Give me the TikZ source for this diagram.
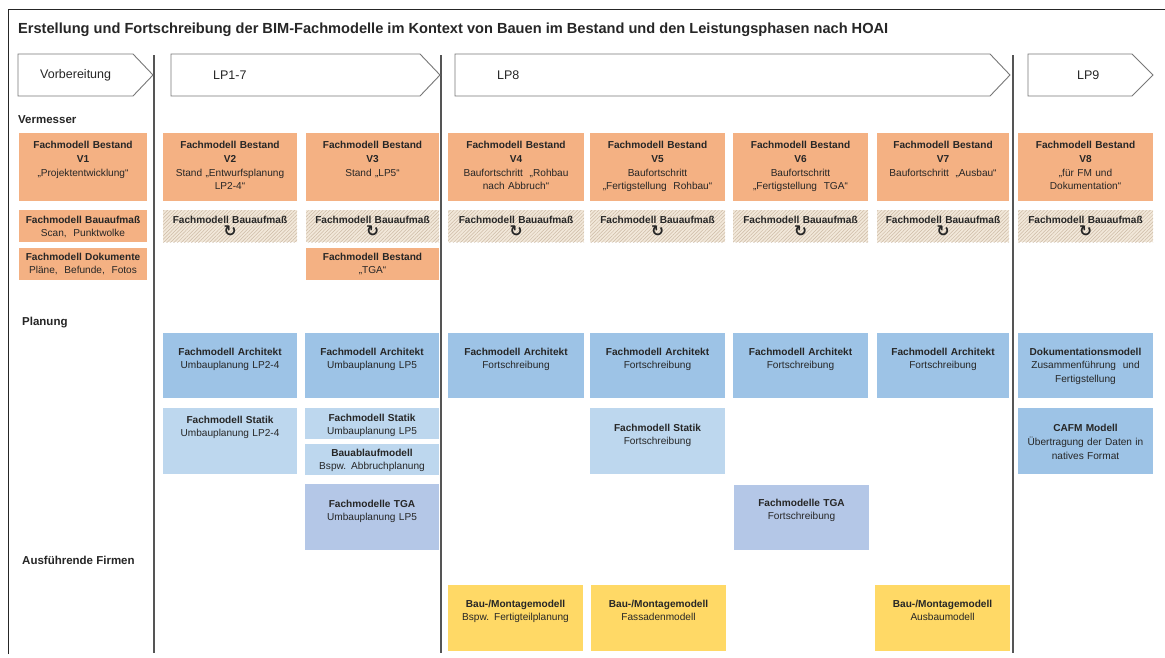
\documentclass[tikz,border=0pt]{standalone}
\usepackage{fontspec}
\setmainfont{Liberation Sans}
\newfontfamily\symfont{DejaVu Sans}
\usetikzlibrary{patterns.meta,calc}
\definecolor{orng}{RGB}{244,177,131}
\definecolor{arch}{RGB}{157,195,230}
\definecolor{stat}{RGB}{189,215,238}
\definecolor{tgac}{RGB}{180,199,231}
\definecolor{ylw}{RGB}{255,217,102}
\definecolor{hbg}{RGB}{242,232,218}
\definecolor{hln}{RGB}{205,186,165}
\definecolor{txtc}{RGB}{38,38,38}
\definecolor{sepc}{RGB}{85,85,85}
\definecolor{hdrc}{RGB}{120,120,120}
\newcommand{\bx}[8]{%
  \pgfmathsetmacro{\bw}{#4-#2}\pgfmathsetmacro{\bh}{#5-#3}\pgfmathsetmacro{\tw}{#4-#2-2}%
  \node[#6, minimum width=\bw pt, minimum height=\bh pt, anchor=north west] (#1) at (#2,#3) {};
  \node[btxt, anchor=north, text width=\tw pt] (#1-t) at ([yshift=-#7 pt]#1.north) {#8};
}
\newcommand{\hsym}{\raisebox{0.5pt}{\symfont\bfseries\fontsize{15.5}{13.8}\selectfont ↻}}
\begin{document}
\begin{tikzpicture}[x=1pt,y=-1pt,
  box/.style={inner sep=0pt, outer sep=0pt, draw=none},
  orange/.style={box, fill=orng},
  archb/.style={box, fill=arch},
  statb/.style={box, fill=stat},
  tgab/.style={box, fill=tgac},
  yelb/.style={box, fill=ylw},
  hatchb/.style={box, fill=hbg, postaction={pattern={Lines[angle=45,distance=2.5pt,line width=0.5pt]}, pattern color=hln}},
  btxt/.style={inner sep=0pt, align=center, text=txtc, font=\fontsize{10.1}{13.8}\selectfont},
  lbl/.style={inner sep=0pt, text=txtc, font=\fontsize{11.5}{13}\selectfont\bfseries},
  htxt/.style={inner sep=0pt, text=txtc, font=\fontsize{12.5}{14}\selectfont},
  hdr/.style={draw=hdrc, line width=0.9pt, fill=white},
  sepl/.style={draw=sepc, line width=1.1pt},
  frame/.style={draw=black!85, line width=0.9pt}]
\useasboundingbox (0,0) rectangle (1165,657);
\fill[white] (0,0) rectangle (1165,657);
% frame
\draw[frame] (8,654) -- (8,9) -- (1165,9);
% title
\node[anchor=west, inner sep=0pt, text=txtc] (title) at (18,30) {\resizebox{870pt}{!}{\fontsize{13}{15}\selectfont\bfseries Erstellung und Fortschreibung der BIM-Fachmodelle im Kontext von Bauen im Bestand und den Leistungsphasen nach HOAI}};
% separators
\draw[sepl] (154,55) -- (154,653);
\draw[sepl] (441,55) -- (441,653);
\draw[sepl] (1013,55) -- (1013,653);
% headers
\draw[hdr] (18,54) -- (133,54) -- (153,75) -- (133,96) -- (18,96) -- cycle;
\draw[hdr] (171,54) -- (420,54) -- (440,75) -- (420,96) -- (171,96) -- cycle;
\draw[hdr] (455,54) -- (990,54) -- (1010,75) -- (990,96) -- (455,96) -- cycle;
\draw[hdr] (1028,54) -- (1132,54) -- (1153,75) -- (1132,96) -- (1028,96) -- cycle;
\node[htxt, anchor=west] (hvor) at (40,75) {Vorbereitung};
\node[htxt, anchor=west] (hlp17) at (213,75) {LP1-7};
\node[htxt, anchor=west] (hlp8) at (497,75) {LP8};
\node[htxt, anchor=west] (hlp9) at (1077,75) {LP9};
% row labels
\node[lbl, anchor=west] (verm) at (18,120) {Vermesser};
\node[lbl, anchor=west] (plan) at (22,323) {Planung};
\node[lbl, anchor=west] (afirm) at (22,560) {Ausführende Firmen};
% row 1: Fachmodell Bestand
\bx{v1}{19}{133}{147}{201}{orange}{8}{\textbf{Fachmodell Bestand}\\\textbf{V1}\\„Projektentwicklung“}
\bx{v2}{163}{133}{297}{201}{orange}{8}{\textbf{Fachmodell Bestand}\\\textbf{V2}\\Stand „Entwurfsplanung\\LP2-4“}
\bx{v3}{306}{133}{439}{201}{orange}{8}{\textbf{Fachmodell Bestand}\\\textbf{V3}\\Stand „LP5“}
\bx{v4}{448}{133}{584}{201}{orange}{8}{\textbf{Fachmodell Bestand}\\\textbf{V4}\\Baufortschritt \ „Rohbau\\nach Abbruch“}
\bx{v5}{590}{133}{725}{201}{orange}{8}{\textbf{Fachmodell Bestand}\\\textbf{V5}\\Baufortschritt\\„Fertigstellung \ Rohbau“}
\bx{v6}{733}{133}{868}{201}{orange}{8}{\textbf{Fachmodell Bestand}\\\textbf{V6}\\Baufortschritt\\„Fertigstellung \ TGA“}
\bx{v7}{877}{133}{1009}{201}{orange}{8}{\textbf{Fachmodell Bestand}\\\textbf{V7}\\Baufortschritt \ „Ausbau“}
\bx{v8}{1018}{133}{1153}{201}{orange}{8}{\textbf{Fachmodell Bestand}\\\textbf{V8}\\„für FM und\\Dokumentation“}
% row 2: Bauaufmass
\bx{b1}{19}{210}{147}{242}{orange}{5.5}{\textbf{Fachmodell Bauaufmaß}\\Scan, \ Punktwolke}
\bx{b2}{163}{210}{297}{242}{hatchb}{5.5}{\textbf{Fachmodell Bauaufmaß}\\\hsym}
\bx{b3}{306}{210}{439}{242}{hatchb}{5.5}{\textbf{Fachmodell Bauaufmaß}\\\hsym}
\bx{b4}{448}{210}{584}{242}{hatchb}{5.5}{\textbf{Fachmodell Bauaufmaß}\\\hsym}
\bx{b5}{590}{210}{725}{242}{hatchb}{5.5}{\textbf{Fachmodell Bauaufmaß}\\\hsym}
\bx{b6}{733}{210}{868}{242}{hatchb}{5.5}{\textbf{Fachmodell Bauaufmaß}\\\hsym}
\bx{b7}{877}{210}{1009}{242}{hatchb}{5.5}{\textbf{Fachmodell Bauaufmaß}\\\hsym}
\bx{b8}{1018}{210}{1153}{242}{hatchb}{5.5}{\textbf{Fachmodell Bauaufmaß}\\\hsym}
% row 3
\bx{d1}{19}{248}{147}{280}{orange}{4.5}{\textbf{Fachmodell Dokumente}\\Pläne, \ Befunde, \ Fotos}
\bx{t3}{306}{248}{439}{280}{orange}{4.5}{\textbf{Fachmodell Bestand}\\„TGA“}
% Planung: Architekt
\bx{a1}{163}{333}{297}{398}{archb}{14.5}{\textbf{Fachmodell Architekt}\\Umbauplanung LP2-4}
\bx{a2}{305}{333}{439}{398}{archb}{14.5}{\textbf{Fachmodell Architekt}\\Umbauplanung LP5}
\bx{a3}{448}{333}{584}{398}{archb}{14.5}{\textbf{Fachmodell Architekt}\\Fortschreibung}
\bx{a4}{590}{333}{725}{398}{archb}{14.5}{\textbf{Fachmodell Architekt}\\Fortschreibung}
\bx{a5}{733}{333}{868}{398}{archb}{14.5}{\textbf{Fachmodell Architekt}\\Fortschreibung}
\bx{a6}{877}{333}{1009}{398}{archb}{14.5}{\textbf{Fachmodell Architekt}\\Fortschreibung}
\bx{dok}{1018}{333}{1153}{398}{archb}{14.5}{\textbf{Dokumentationsmodell}\\Zusammenführung \ und\\Fertigstellung}
% Statik etc.
\bx{s1}{163}{408}{297}{474}{statb}{7.5}{\textbf{Fachmodell Statik}\\Umbauplanung LP2-4}
\bx{s2}{305}{408}{439}{439}{statb}{5.5}{\textbf{Fachmodell Statik}\\Umbauplanung LP5}
\bx{bau}{305}{444}{439}{475}{statb}{4.5}{\textbf{Bauablaufmodell}\\Bspw. Abbruchplanung}
\bx{s4}{590}{408}{725}{474}{statb}{15.5}{\textbf{Fachmodell Statik}\\Fortschreibung}
\bx{cafm}{1018}{408}{1153}{474}{archb}{16}{\textbf{CAFM Modell}\\Übertragung der Daten in\\natives Format}
% TGA
\bx{tg2}{305}{484}{439}{550}{tgab}{15.5}{\textbf{Fachmodelle TGA}\\Umbauplanung LP5}
\bx{tg5}{734}{485}{869}{550}{tgab}{13.5}{\textbf{Fachmodelle TGA}\\Fortschreibung}
% Ausfuehrende Firmen
\bx{y4}{448}{585}{583}{651}{yelb}{14.5}{\textbf{Bau-/Montagemodell}\\Bspw. Fertigteilplanung}
\bx{y5}{591}{585}{726}{651}{yelb}{14.5}{\textbf{Bau-/Montagemodell}\\Fassadenmodell}
\bx{y7}{875}{585}{1010}{651}{yelb}{14.5}{\textbf{Bau-/Montagemodell}\\Ausbaumodell}
\end{tikzpicture}
\end{document}
